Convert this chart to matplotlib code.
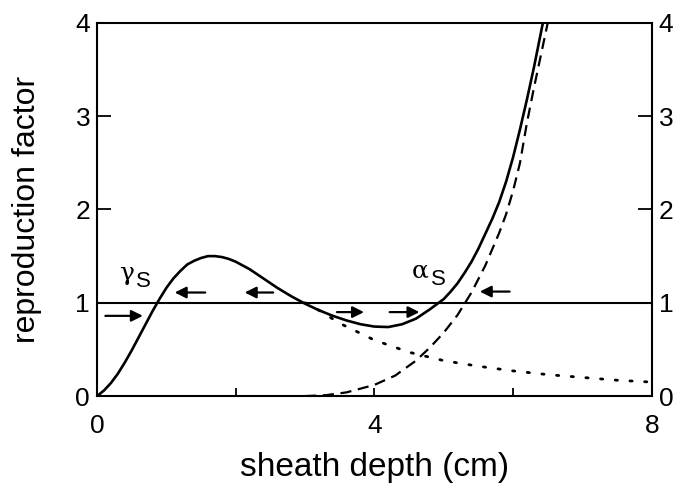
import matplotlib
matplotlib.use("Agg")
import matplotlib.pyplot as plt

plt.rcParams['font.family'] = ['Liberation Sans', 'DejaVu Sans']

# total reproduction factor (solid)
solid_x = [0.0, 0.1, 0.2, 0.3, 0.4, 0.5, 0.6, 0.7, 0.8, 0.9, 1.0, 1.1, 1.2, 1.3, 1.4, 1.5, 1.6, 1.7,
           1.8, 1.9, 2.0, 2.2, 2.4, 2.6, 2.8, 3.0, 3.2, 3.4, 3.6, 3.8, 4.0, 4.2, 4.4, 4.6, 4.8,
           5.0, 5.1, 5.2, 5.3, 5.4, 5.5, 5.6, 5.7, 5.8, 5.9, 6.0, 6.1, 6.2, 6.3, 6.43]
solid_y = [0.0, 0.06, 0.14, 0.24, 0.36, 0.49, 0.63, 0.77, 0.91, 1.04, 1.16, 1.26, 1.34, 1.41, 1.45, 1.48, 1.5, 1.5,
           1.49, 1.47, 1.44, 1.36, 1.26, 1.16, 1.07, 0.99, 0.92, 0.86, 0.81, 0.77, 0.745, 0.74, 0.77, 0.83, 0.93,
           1.04, 1.12, 1.21, 1.32, 1.44, 1.58, 1.74, 1.9, 2.08, 2.3, 2.56, 2.86, 3.18, 3.52, 4.0]

# gamma contribution (dotted)
dot_x = [3.0, 3.2, 3.5, 4.0, 4.5, 5.0, 5.5, 6.0, 6.5, 7.0, 7.5, 8.0]
dot_y = [1.0, 0.92, 0.78, 0.6, 0.47, 0.38, 0.32, 0.27, 0.23, 0.2, 0.17, 0.15]

# alpha contribution (dashed)
dash_x = [3.0, 3.3, 3.6, 4.0, 4.3, 4.6, 4.8, 5.0, 5.2, 5.4, 5.6, 5.8, 5.9, 6.0, 6.1, 6.2, 6.3, 6.4, 6.5]
dash_y = [0.0, 0.01, 0.04, 0.12, 0.22, 0.38, 0.52, 0.68, 0.87, 1.11, 1.4, 1.75, 1.95, 2.2, 2.5, 2.93, 3.3, 3.65, 4.0]

# arrows: (x_start, x_end, y)
arrows = [(0.12, 0.66, 0.86), (1.56, 1.12, 1.11), (2.54, 2.13, 1.11),
          (3.46, 3.85, 0.9), (4.22, 4.65, 0.9), (5.95, 5.52, 1.12)]

x_major = [0, 4, 8]
x_minor = [2, 6]
y_ticks = [0, 1, 2, 3, 4]

fig = plt.figure(figsize=(6.74, 4.86), dpi=100)
ax = fig.add_axes([0.144, 0.185, 0.823, 0.768])

ax.plot(solid_x, solid_y, color='black', lw=1.9, solid_joinstyle='round')
ax.plot(dot_x, dot_y, color='black', lw=2.0, linestyle=(0, (0.8, 4.5)), dash_capstyle='round')
ax.plot(dash_x, dash_y, color='black', lw=1.6, linestyle=(0, (5, 3)))
ax.axhline(1.0, color='black', lw=1.5)

for x0, x1, y in arrows:
    ax.annotate('', xy=(x1, y), xytext=(x0, y),
                arrowprops=dict(arrowstyle='-|>', color='black', lw=1.6,
                                mutation_scale=17, shrinkA=0, shrinkB=0))

greek_fam = ['DejaVu Serif']
ax.text(0.43, 1.31, 'γ', fontsize=18, family=greek_fam, ha='center', va='center')
ax.text(0.67, 1.23, 'S', fontsize=16, ha='center', va='center')
ax.text(4.66, 1.34, 'α', fontsize=18, family=greek_fam, ha='center', va='center')
ax.text(4.93, 1.25, 'S', fontsize=16, ha='center', va='center')

ax.set_xlim(0, 8)
ax.set_ylim(0, 4)
ax.set_xticks(x_major)
ax.set_xticks(x_minor, minor=True)
ax.set_yticks(y_ticks)
ax.tick_params(axis='y', direction='in', length=10, width=1.3, right=True, labelright=True,
               labelsize=19, pad=5)
ax.tick_params(axis='x', which='both', direction='in', length=6, width=1.3, labelsize=19, pad=13)
for s in ax.spines.values():
    s.set_linewidth(1.5)

ax.set_xlabel('sheath depth (cm)', fontsize=24, labelpad=10)
ax.set_ylabel('reproduction factor', fontsize=23, labelpad=24)

fig.savefig('out.png', dpi=100)
